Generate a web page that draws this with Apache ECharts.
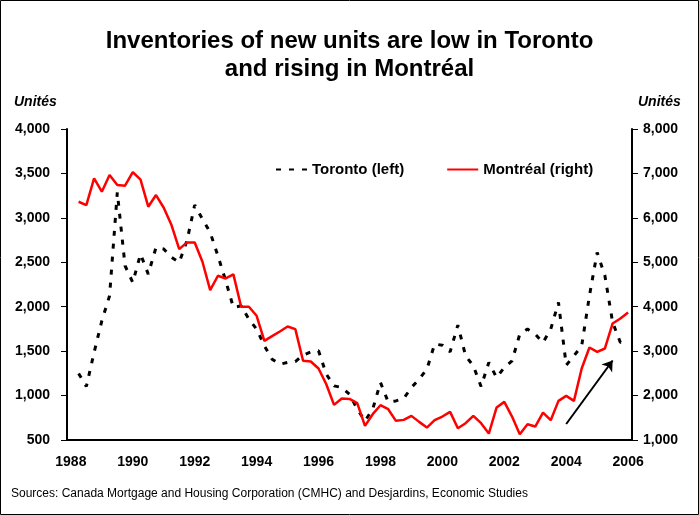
<!DOCTYPE html>
<html lang="en">
<head>
    <meta charset="UTF-8" />
    <title>Inventories of new units</title>
    <script src="https://cdn.jsdelivr.net/npm/echarts@6.0.0/dist/echarts.min.js"></script>
    <style>
        html, body { margin: 0; padding: 0; background: #fff; }
        #lienzo { width: 699px; height: 515px; }
    </style>
</head>
<body>
    <div id="lienzo"></div>

    <script>
        // quarters 1988Q1 .. 2006Q1, first quarter has no data
        let years = [1988, 1989, 1990, 1991, 1992, 1993, 1994, 1995, 1996, 1997,
                     1998, 1999, 2000, 2001, 2002, 2003, 2004, 2005, 2006];
        let quarters = [];
        years.forEach((y) => {
            for (let q = 1; q <= 4; q++) {
                if (y === 2006 && q > 1) break;
                quarters.push(y + 'Q' + q);
            }
        });

        let toronto = [null,
            1248, 1102, 1485, 1841, 2123, 3287, 2461, 2273, 2592, 2367, 2667, 2649,
            2555, 2498, 2742, 3144, 2986, 2836, 2573, 2292, 1992, 2010, 1860, 1748,
            1560, 1410, 1353, 1372, 1383, 1455, 1492, 1504, 1241, 1109, 1091, 1015,
            847, 715, 847, 1147, 929, 940, 967, 1091, 1185, 1297, 1579, 1567,
            1492, 1793, 1447, 1335, 1102, 1372, 1203, 1316, 1391, 1691, 1748, 1691,
            1597, 1748, 2048, 1342, 1447, 1560, 2123, 2611, 2348, 1823, 1597, 1630];

        let montreal = [null,
            6363, 6288, 6889, 6589, 6964, 6739, 6724, 7031, 6859, 6251, 6513, 6228,
            5838, 5297, 5447, 5447, 5012, 4374, 4697, 4636, 4727, 3998, 3998, 3796,
            3232, 3338, 3443, 3555, 3495, 2782, 2767, 2609, 2256, 1791, 1934, 1925,
            1828, 1318, 1581, 1783, 1693, 1431, 1453, 1543, 1408, 1280, 1446, 1528,
            1633, 1265, 1378, 1543, 1378, 1145, 1731, 1858, 1528, 1130, 1356, 1303,
            1618, 1446, 1881, 1994, 1881, 2609, 3082, 2985, 3060, 3623, 3735, 3871];

        // arrow annotation (right axis units)
        let flecha = [['2004Q1', 1360], ['2005Q3', 2790]];

        let fuente = 'Liberation Sans, Arial, sans-serif';
        let fmt = (v) => v.toLocaleString('en-US');

        let myChart = echarts.init(document.getElementById('lienzo'));
        myChart.setOption({
            animation: false,
            textStyle: { fontFamily: fuente },
            title: {
                text: 'Inventories of new units are low in Toronto\nand rising in Montréal',
                left: 'center',
                top: 22,
                textStyle: { fontSize: 24, fontWeight: 'bold', lineHeight: 28, color: '#000', fontFamily: fuente }
            },
            legend: {
                left: 270,
                top: 157,
                itemWidth: 31,
                itemHeight: 10,
                itemGap: 42,
                itemStyle: { opacity: 0 },
                textStyle: { fontSize: 15, fontWeight: 'bold', color: '#000', fontFamily: fuente },
                data: ['Toronto (left)', 'Montréal (right)']
            },
            grid: { left: 67, right: 67, top: 129, bottom: 75, containLabel: false },
            xAxis: {
                type: 'category',
                data: quarters,
                boundaryGap: true,
                axisLine: { lineStyle: { color: '#000', width: 2 } },
                axisTick: { show: false },
                axisLabel: {
                    interval: 7,
                    margin: 15,
                    color: '#000',
                    fontSize: 14,
                    fontWeight: 'bold',
                    formatter: (v) => v.slice(0, 4)
                }
            },
            yAxis: [
                {
                    type: 'value',
                    min: 500, max: 4000, interval: 500,
                    splitLine: { show: false },
                    axisLine: { show: true, lineStyle: { color: '#000', width: 2 } },
                    axisTick: { show: true, length: 6, lineStyle: { color: '#000', width: 1 } },
                    axisLabel: { margin: 17, color: '#000', fontSize: 14, fontWeight: 'bold', formatter: fmt }
                },
                {
                    type: 'value',
                    min: 1000, max: 8000, interval: 1000,
                    splitLine: { show: false },
                    axisLine: { show: true, lineStyle: { color: '#000', width: 2 } },
                    axisTick: { show: true, length: 6, lineStyle: { color: '#000', width: 1 } },
                    axisLabel: { margin: 11, color: '#000', fontSize: 14, fontWeight: 'bold', formatter: fmt }
                }
            ],
            series: [
                {
                    name: 'Toronto (left)',
                    type: 'line',
                    yAxisIndex: 0,
                    data: toronto,
                    symbol: 'none',
                    lineStyle: { color: '#000', width: 3, type: [5, 8], cap: 'butt' },
                    itemStyle: { color: '#000' }
                },
                {
                    name: 'Montréal (right)',
                    type: 'line',
                    yAxisIndex: 1,
                    data: montreal,
                    symbol: 'none',
                    lineStyle: { color: '#ff0000', width: 2.5 },
                    itemStyle: { color: '#ff0000' },
                    markLine: {
                        silent: true,
                        symbol: ['none', 'arrow'],
                        symbolSize: 10,
                        label: { show: false },
                        lineStyle: { color: '#000', width: 2, type: 'solid' },
                        data: [[{ coord: flecha[0] }, { coord: flecha[1] }]]
                    }
                }
            ],
            graphic: [
                {
                    type: 'rect',
                    shape: { x: 0.5, y: 0.5, width: 698, height: 514 },
                    style: { fill: 'none', stroke: '#000', lineWidth: 1 }
                },
                {
                    type: 'text', left: 14, top: 95,
                    style: { text: 'Unités', font: 'italic bold 14px ' + fuente, fill: '#000' }
                },
                {
                    type: 'text', left: 638, top: 95,
                    style: { text: 'Unités', font: 'italic bold 14px ' + fuente, fill: '#000' }
                },
                {
                    type: 'text', left: 11, top: 488,
                    style: {
                        text: 'Sources: Canada Mortgage and Housing Corporation (CMHC) and Desjardins, Economic Studies',
                        font: '12px ' + fuente, fill: '#000'
                    }
                }
            ]
        });
    </script>
</body>
</html>
